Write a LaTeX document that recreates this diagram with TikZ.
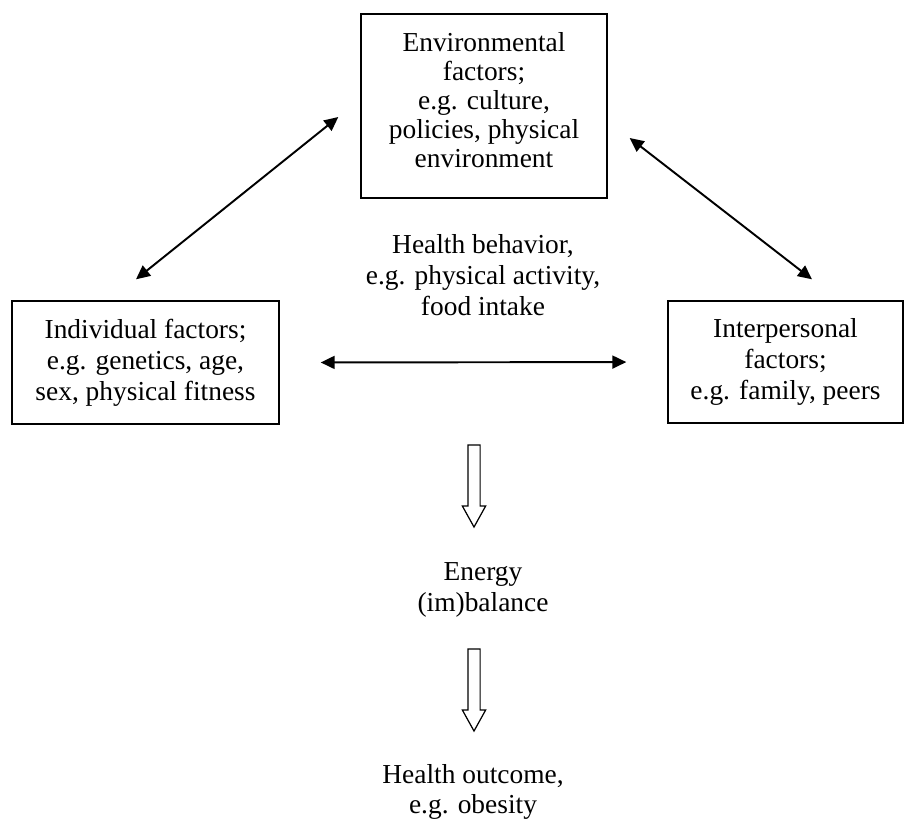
\documentclass[tikz,border=0pt]{standalone}
\usepackage{fontspec}
\setmainfont{Liberation Serif}
\usetikzlibrary{arrows.meta,shapes.arrows}

\tikzset{%
        factor/.style={
                rectangle,
                draw,
                line width=0.8pt,
                align=center,
                inner sep=0pt
            },
        label/.style={
                align=center,
                inner sep=0pt
            },
        tight/.style={
                font=\fontsize{15.6}{16.6}\selectfont
            },
        dblarrow/.style={
                line width=1.1pt,
                {Triangle[length=0.28cm,width=0.26cm]}-{Triangle[length=0.28cm,width=0.26cm]}
            },
        hollow/.style={
                single arrow,
                draw,
                line width=0.7pt,
                shape border rotate=270,
                minimum height=1.64cm,
                minimum width=0.44cm,
                inner xsep=0.11cm,
                inner ysep=0pt,
                single arrow head extend=0.11cm,
                single arrow tip angle=58
            }
    }

\begin{document}
\begin{tikzpicture}[every node/.style={font=\fontsize{15.6}{17.6}\selectfont}]

    \useasboundingbox (0,0) rectangle (18.08,-16.44);

    % the three groups of factors:
        \node [factor, minimum width=4.92cm, minimum height=3.68cm]  (env) at (9.68,-2.12) {};
        \node [label, tight]  (envtext) at (9.68,-2.0)
            {Environmental\\ factors;\\ e.g. culture,\\ policies, physical\\ environment};
        \node [factor, minimum width=5.34cm, minimum height=2.46cm]  (ind) at (2.91,-7.25)
            {Individual factors;\\ e.g. genetics, age,\\ sex, physical fitness};
        \node [factor, minimum width=4.70cm, minimum height=2.44cm]  (inter) at (15.71,-7.24)
            {Interpersonal\\ factors;\\ e.g. family, peers};

        \draw [dblarrow] ([shift={(-0.19,0.42)}]ind.north) -- ([shift={(-0.44,-0.22)}]env.west);
        \draw [dblarrow] ([shift={(0.44,-0.64)}]env.east) -- ([shift={(0.53,0.42)}]inter.north);
        \draw [dblarrow, shorten <=0.82cm, shorten >=0.82cm] (ind.east) -- (inter.west);

    % behaviour down to outcome:
        \node [label]  (behav) at (9.66,-5.5) {Health behavior,\\ e.g. physical activity,\\ food intake};
        \node [hollow]  (a1) at (9.48,-9.61) {};
        \node [label]  (energy) at (9.66,-11.8) {Energy\\ (im)balance};
        \node [hollow]  (a2) at (9.48,-13.69) {};
        \node [label, tight]  (outcome) at (9.46,-15.84) {Health outcome,\\ e.g. obesity};
    \end{tikzpicture}
\end{document}
